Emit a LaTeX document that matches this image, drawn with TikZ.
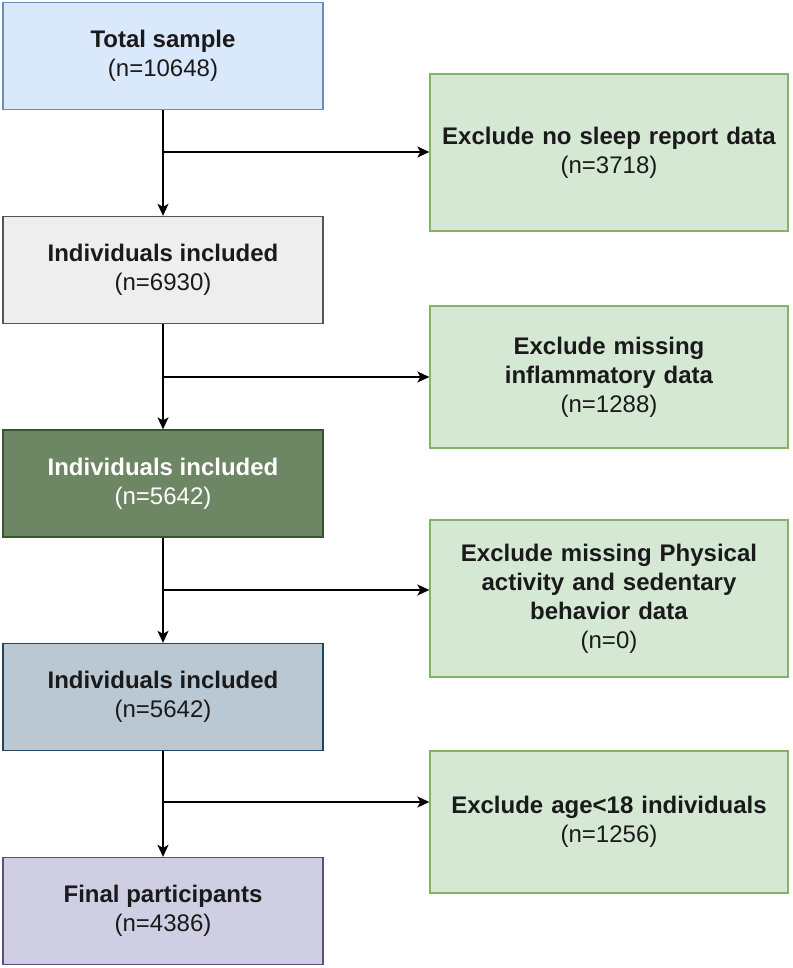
\documentclass[tikz,border=0pt]{standalone}
\usepackage{fontspec}
\setmainfont{Liberation Sans}
\usetikzlibrary{arrows.meta}

\definecolor{bluefill}{HTML}{DAE8FC}
\definecolor{blueline}{HTML}{6C8EBF}
\definecolor{greyfill}{HTML}{EEEEEE}
\definecolor{greyline}{HTML}{555555}
\definecolor{darkfill}{HTML}{6D8764}
\definecolor{darkline}{HTML}{3A5431}
\definecolor{slatefill}{HTML}{BAC8D3}
\definecolor{slateline}{HTML}{23445D}
\definecolor{purplefill}{HTML}{D0CEE2}
\definecolor{purpleline}{HTML}{56517E}
\definecolor{exfill}{HTML}{D5E8D4}
\definecolor{exline}{HTML}{82B366}
\definecolor{txt}{HTML}{1A1A1A}

\begin{document}
\begin{tikzpicture}[x=1pt,y=-1pt,
		box/.style={draw, line width=1.3pt, minimum width=320pt, minimum height=107pt,
			align=center, inner sep=0pt, text=txt, font=\fontsize{24}{29}\selectfont},
		exbox/.style={box, fill=exfill, draw=exline, minimum width=358pt, text width=350pt},
		arr/.style={-{Stealth[length=12pt,width=11pt,inset=3pt]}, line width=1.4pt}]
	\useasboundingbox (0,0) rectangle (792,968);

	% Main column
	\node[box, fill=bluefill, draw=blueline] (total) at (163,56) {\textbf{Total sample}\\(n=10648)};
	\node[box, fill=greyfill, draw=greyline] (incl1) at (163,270) {\textbf{Individuals included}\\(n=6930)};
	\node[box, fill=darkfill, draw=darkline, text=white] (incl2) at (163,483.5) {\textbf{Individuals included}\\(n=5642)};
	\node[box, fill=slatefill, draw=slateline] (incl3) at (163,697) {\textbf{Individuals included}\\(n=5642)};
	\node[box, fill=purplefill, draw=purpleline] (final) at (163,911) {\textbf{Final participants}\\(n=4386)};

	% Exclusion boxes
	\node[exbox, minimum height=157pt] (excl1) at (609,152.5) {\textbf{Exclude no sleep report data}\\(n=3718)};
	\node[exbox, minimum height=142pt] (excl2) at (609,377) {\textbf{Exclude missing}\\\textbf{inflammatory data}\\(n=1288)};
	\node[exbox, minimum height=157pt] (excl3) at (609,598.5) {\textbf{Exclude missing Physical}\\\textbf{activity and sedentary}\\\textbf{behavior data}\\(n=0)};
	\node[exbox, minimum height=142pt] (excl4) at (609,822) {\textbf{Exclude age<18 individuals}\\(n=1256)};

	% Branch points
	\coordinate (br1) at (163,152);
	\coordinate (br2) at (163,377);
	\coordinate (br3) at (163,590);
	\coordinate (br4) at (163,802);

	% Flow
	\draw[arr] (total) -- (incl1);
	\draw[arr] (incl1) -- (incl2);
	\draw[arr] (incl2) -- (incl3);
	\draw[arr] (incl3) -- (final);

	\draw[arr] (br1) -- (br1 -| excl1.west);
	\draw[arr] (br2) -- (br2 -| excl2.west);
	\draw[arr] (br3) -- (br3 -| excl3.west);
	\draw[arr] (br4) -- (br4 -| excl4.west);
\end{tikzpicture}
\end{document}
